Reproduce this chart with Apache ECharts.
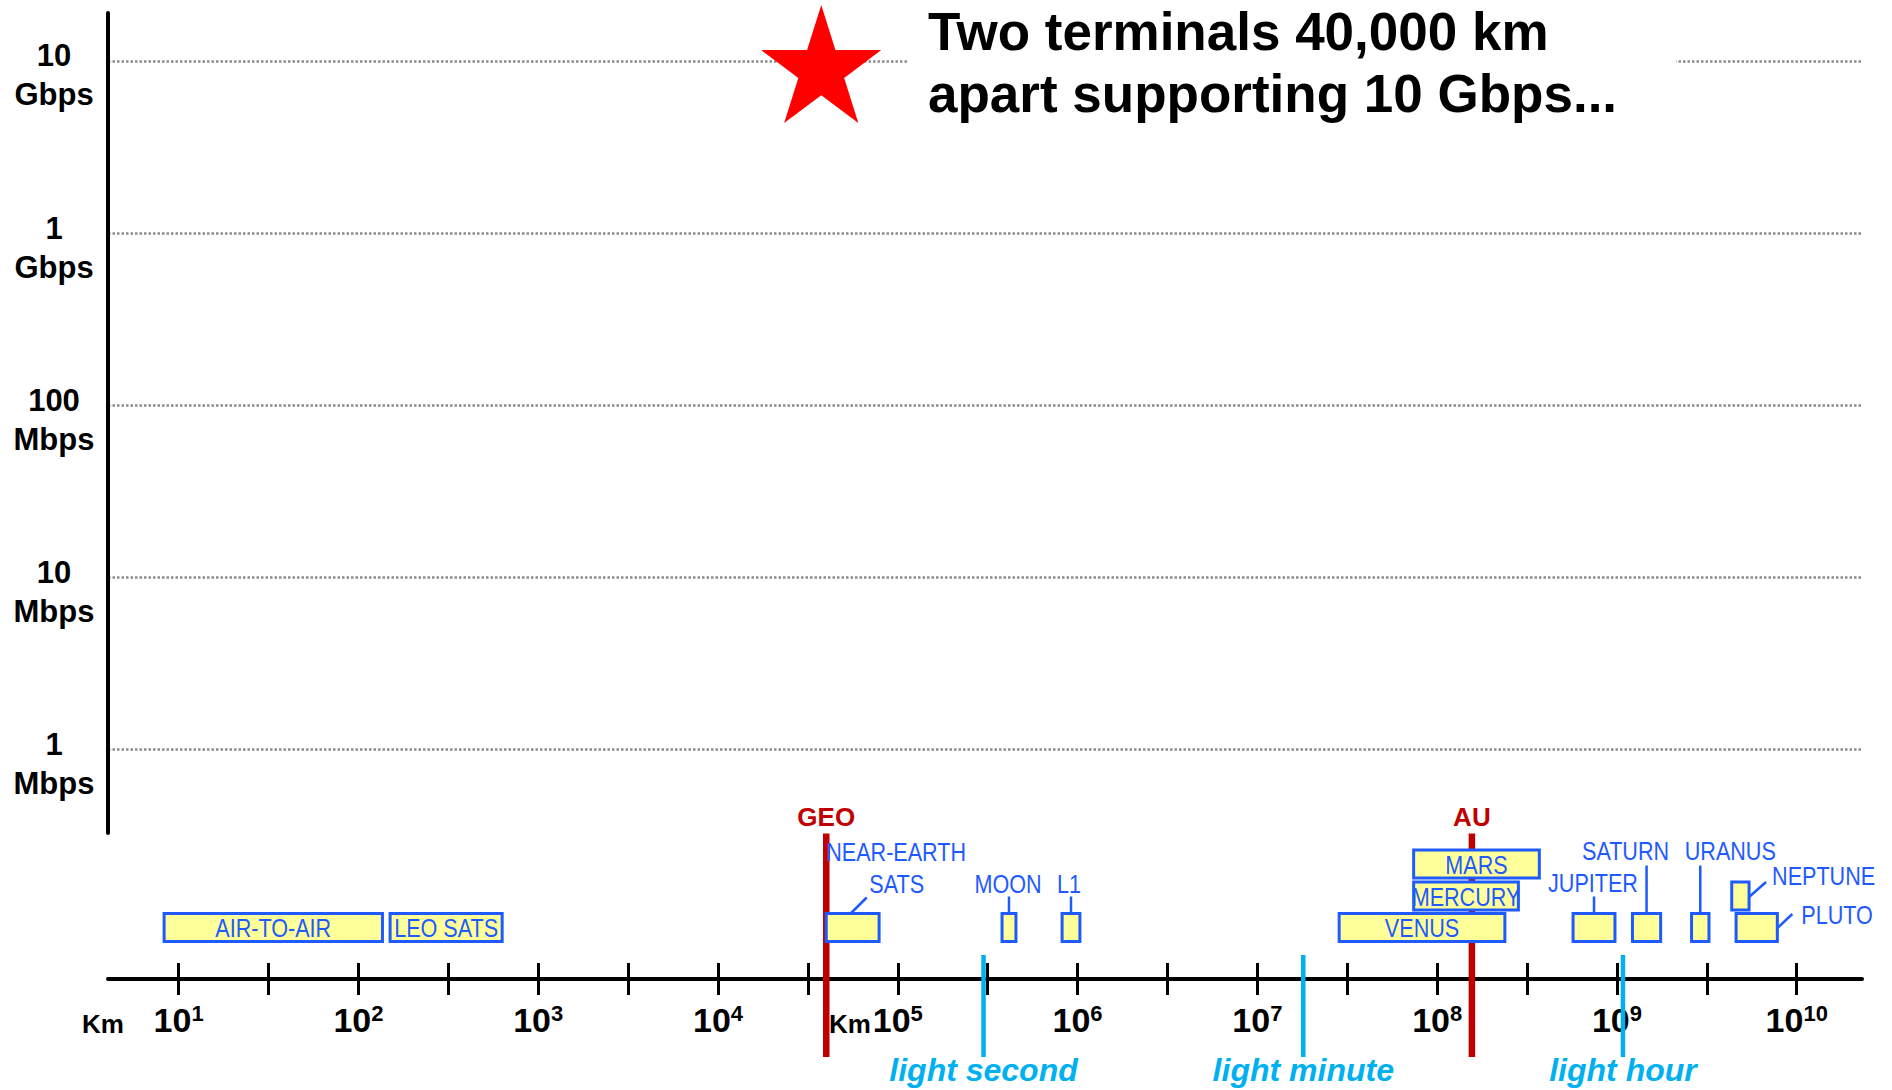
<!DOCTYPE html>
<html><head><meta charset="utf-8">
<script src="https://cdn.jsdelivr.net/npm/echarts@6/dist/echarts.min.js"></script>
<style>html,body{margin:0;padding:0;background:#fff;}#c{width:1892px;height:1090px;}</style>
</head><body><div id="c"></div>
<script>
// ---------------- data ----------------
const throughputTickBps = [1e6, 1e7, 1e8, 1e9, 1e10];
const throughputTickLabels = ['1\nMbps', '10\nMbps', '100\nMbps', '1\nGbps', '10\nGbps'];
const distanceLabelExponents = [1, 2, 3, 4, 5, 6, 7, 8, 9, 10];
const distanceTickExponents = [1, 1.5, 2, 2.5, 3, 3.5, 4, 4.5, 5, 5.5, 6, 6.5, 7, 7.5, 8, 8.5, 9, 9.5, 10];
const goalKm = 40000;
const goalBps = 1e10;
const titleText = 'Two terminals 40,000 km\napart supporting 10 Gbps...';
const distanceUnit = 'Km';
const bodyNames = ['AIR-TO-AIR', 'LEO SATS', 'NEAR-EARTH SATS', 'MOON', 'L1', 'VENUS', 'MERCURY', 'MARS',
                   'JUPITER', 'SATURN', 'URANUS', 'NEPTUNE', 'PLUTO'];
const bodyMinKm = [8.3, 150, 40000, 380000, 820000, 2.85e7, 7.4e7, 7.4e7, 5.7e8, 1.22e9, 2.6e9, 4.35e9, 4.6e9];
const bodyMaxKm = [136, 630, 78700, 454000, 1.03e6, 2.38e8, 2.83e8, 3.7e8, 9.75e8, 1.75e9, 3.25e9, 5.43e9, 7.8e9];
const markerNames = ['GEO', 'AU'];
const markerKm = [40000, 1.56e8];
const lightNames = ['light second', 'light minute', 'light hour'];
const lightKm = [299792, 1.8e7, 1.08e9];

// ---------------- layout / style ----------------
const BLUE = '#1f5aff', YELLOW = '#ffff99', RED = '#c00000', CYAN = '#00b0f0';
const FONT = 'Liberation Sans';
const X_MIN = 0.607, X_MAX = 10.363;   // log10(km) range of the distance axis
const Y_MIN = 5.512, Y_MAX = 10.279;   // log10(bps) range of the throughput axis
const ROW_TOP = [-65.5, -97, -129];
const BOX_H = 28;
const bodyLayout = {
  'AIR-TO-AIR': {row: 0, inside: true},
  'LEO SATS': {row: 0, inside: true},
  'NEAR-EARTH SATS': {row: 0,
    labels: [{t: 'NEAR-EARTH', ref: 'l', dx: 0, dy: -62, align: 'left'}, {t: 'SATS', ref: 'c', dx: 44, dy: -30}],
    leader: [['c', -2, 0], ['c', 14, -16]]},
  'MOON': {row: 0, labels: [{t: 'MOON', ref: 'c', dx: -1, dy: -30}], leader: [['c', 0, 0], ['c', 0, -17]]},
  'L1': {row: 0, labels: [{t: 'L1', ref: 'c', dx: -2, dy: -30}], leader: [['c', 0, 0], ['c', 0, -17]]},
  'VENUS': {row: 0, inside: true},
  'MERCURY': {row: 1, inside: true},
  'MARS': {row: 2, inside: true},
  'JUPITER': {row: 0, labels: [{t: 'JUPITER', ref: 'c', dx: -1, dy: -31}], leader: [['c', 0, 0], ['c', 0, -17]]},
  'SATURN': {row: 0, labels: [{t: 'SATURN', ref: 'c', dx: -21, dy: -63}], leader: [['c', 0, 0], ['c', 0, -48]]},
  'URANUS': {row: 0, labels: [{t: 'URANUS', ref: 'c', dx: 30, dy: -63}], leader: [['c', 0, 0], ['c', 0, -48]]},
  'NEPTUNE': {row: 1, labels: [{t: 'NEPTUNE', ref: 'r', dx: 23, dy: -6, align: 'left'}], leader: [['r', 0, 15], ['r', 17, 0]]},
  'PLUTO': {row: 0, labels: [{t: 'PLUTO', ref: 'r', dx: 24, dy: 1.5, align: 'left'}], leader: [['r', 0, 14.5], ['r', 15, 0.5]]}
};
const STAR = 'path://M50,0 L61.23,34.55 L97.55,34.55 L68.17,55.9 L79.39,90.45 L50,69.1 L20.61,90.45 L31.83,55.9 L2.45,34.55 L38.77,34.55 Z';

const lg = Math.log10;

function renderBody(params, api) {
  const i = api.value(2);
  const name = bodyNames[i];
  const L = bodyLayout[name];
  const a = api.coord([api.value(0), 0]);
  const b = api.coord([api.value(1), 0]);
  const top = a[1] + ROW_TOP[L.row];
  const ref = {l: a[0], r: b[0], c: (a[0] + b[0]) / 2};
  const children = [];
  if (L.leader) {
    children.push({type: 'polyline', shape: {points: L.leader.map(p => [ref[p[0]] + p[1], top + p[2]])},
      style: {stroke: BLUE, lineWidth: 2.5, fill: null}});
  }
  children.push({type: 'rect', shape: {x: a[0], y: top, width: b[0] - a[0], height: BOX_H},
    style: {fill: YELLOW, stroke: BLUE, lineWidth: 3}});
  const labels = L.inside ? [{t: name, ref: 'c', dx: 0, dy: BOX_H / 2 + 0.5}] : L.labels;
  labels.forEach(lb => children.push({type: 'text', x: ref[lb.ref] + lb.dx, y: top + lb.dy, scaleX: 0.83,
    style: {text: lb.t, fill: BLUE, fontSize: 26, fontFamily: FONT, align: lb.align || 'center', verticalAlign: 'middle'}}));
  return {type: 'group', children};
}
function renderMarker(params, api) {
  const p = api.coord([api.value(0), 0]);
  return {type: 'group', children: [
    {type: 'line', shape: {x1: p[0], y1: p[1] - 145.5, x2: p[0], y2: p[1] + 78}, style: {stroke: RED, lineWidth: 6.5}},
    {type: 'text', x: p[0], y: p[1] - 162, style: {text: markerNames[api.value(1)], fill: RED, fontSize: 26,
      fontWeight: 'bold', fontFamily: FONT, align: 'center', verticalAlign: 'middle'}}
  ]};
}
function renderLight(params, api) {
  const p = api.coord([api.value(0), 0]);
  return {type: 'group', children: [
    {type: 'line', shape: {x1: p[0], y1: p[1] - 24, x2: p[0], y2: p[1] + 78}, style: {stroke: CYAN, lineWidth: 4.5}},
    {type: 'text', x: p[0], y: p[1] + 91, style: {text: lightNames[api.value(1)], fill: CYAN, fontSize: 32,
      fontWeight: 'bold', fontStyle: 'italic', fontFamily: FONT, align: 'center', verticalAlign: 'middle'}}
  ]};
}

const yTickExp = throughputTickBps.map(v => Math.round(lg(v)));

const option = {
  backgroundColor: '#fff',
  animation: false,
  title: {
    text: titleText, left: 907, top: 0, padding: [0, 59, 4, 21], z: 6,
    backgroundColor: '#fff',
    textStyle: {fontSize: 53, fontWeight: 'bold', fontFamily: FONT, color: '#000', lineHeight: 62}
  },
  grid: [
    {left: 108, right: 30, top: 13, height: 820},
    {left: 108, right: 30, top: 800, height: 179}
  ],
  xAxis: [
    {gridIndex: 0, type: 'value', min: X_MIN, max: X_MAX, show: false},
    {gridIndex: 1, type: 'value', min: X_MIN, max: X_MAX, position: 'bottom',
      axisLine: {show: true, onZero: false, lineStyle: {color: '#000', width: 4}},
      axisTick: {show: true, customValues: distanceTickExponents, length: 16, lineStyle: {color: '#000', width: 3}},
      axisLabel: {show: true, customValues: distanceLabelExponents, margin: 23,
        formatter: v => '{b|10}{s|' + Math.round(v) + '}',
        rich: {
          b: {fontSize: 34, fontWeight: 'bold', fontFamily: FONT, color: '#000', lineHeight: 36},
          s: {fontSize: 22, fontWeight: 'bold', fontFamily: FONT, color: '#000', lineHeight: 22, verticalAlign: 'top'}
        }},
      splitLine: {show: false}},
    {gridIndex: 1, type: 'value', min: X_MIN, max: X_MAX, position: 'bottom',
      axisLine: {show: false, onZero: false},
      axisTick: {show: true, inside: true, customValues: distanceTickExponents, length: 16, lineStyle: {color: '#000', width: 3}},
      axisLabel: {show: false}, splitLine: {show: false}}
  ],
  yAxis: [
    {gridIndex: 0, type: 'value', min: Y_MIN, max: Y_MAX,
      axisLine: {show: true, onZero: false, lineStyle: {color: '#000', width: 4}},
      axisTick: {show: false, customValues: yTickExp},
      axisLabel: {customValues: yTickExp, margin: 54, align: 'center',
        formatter: v => '{e| }\n' + throughputTickLabels[yTickExp.indexOf(Math.round(v))]
          .split('\n').map(s => '{a|' + s + '}').join('\n'),
        rich: {
          e: {fontSize: 10, lineHeight: 29},
          a: {fontSize: 31, fontWeight: 'bold', fontFamily: FONT, color: '#000', lineHeight: 39, align: 'center'}
        }},
      splitLine: {show: true, showMinLine: true, showMaxLine: true,
        lineStyle: {color: '#8c8c8c', width: 2.5, type: [2.5, 2]}}},
    {gridIndex: 1, type: 'value', min: 0, max: 1, show: false}
  ],
  graphic: [
    {type: 'text', x: 82, y: 1024, style: {text: distanceUnit, fontSize: 26, fontWeight: 'bold', fontFamily: FONT,
      fill: '#000', align: 'left', verticalAlign: 'middle'}},
    {type: 'text', x: 829, y: 1024, style: {text: distanceUnit, fontSize: 26, fontWeight: 'bold', fontFamily: FONT,
      fill: '#000', align: 'left', verticalAlign: 'middle'}, z: 10}
  ],
  series: [
    {type: 'scatter', xAxisIndex: 0, yAxisIndex: 0, silent: true, z: 3,
      data: [[lg(goalKm), lg(goalBps)]], symbol: STAR, symbolSize: [120, 118], symbolOffset: [-5, 3],
      itemStyle: {color: '#ff0000', opacity: 1}},
    {type: 'custom', xAxisIndex: 1, yAxisIndex: 1, silent: true, z: 2, clip: false,
      data: markerKm.map((km, i) => [lg(km), i]), renderItem: renderMarker},
    {type: 'custom', xAxisIndex: 1, yAxisIndex: 1, silent: true, z: 2, clip: false,
      data: lightKm.map((km, i) => [lg(km), i]), renderItem: renderLight},
    {type: 'custom', xAxisIndex: 1, yAxisIndex: 1, silent: true, z: 4, clip: false,
      encode: {x: [0, 1]},
      data: bodyNames.map((n, i) => [lg(bodyMinKm[i]), lg(bodyMaxKm[i]), i]), renderItem: renderBody}
  ]
};
const chart = echarts.init(document.getElementById('c'), null, {renderer: 'svg'});
chart.setOption(option);
</script>
</body></html>
